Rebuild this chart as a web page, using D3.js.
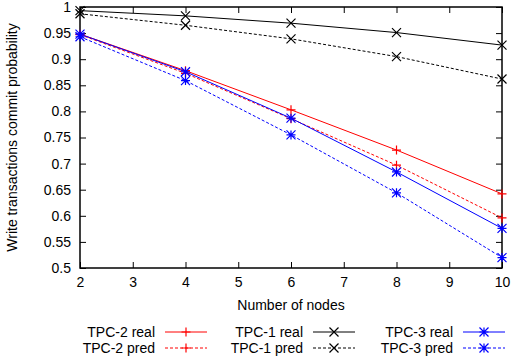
<!DOCTYPE html>
<html>
<head>
<meta charset="utf-8">
<script src="https://cdn.jsdelivr.net/npm/d3@7"></script>
<style>
  body { margin: 0; background: #fff; }
  svg { display: block; font-family: "Liberation Sans", Arial, sans-serif; }
</style>
</head>
<body>
<div id="chart"></div>
<script>
// data
const nodes = [2, 4, 6, 8, 10];
const tpc2Real = [0.948, 0.878, 0.803, 0.726, 0.642];
const tpc2Pred = [0.947, 0.873, 0.786, 0.697, 0.596];
const tpc1Real = [0.993, 0.983, 0.969, 0.951, 0.927];
const tpc1Pred = [0.987, 0.965, 0.939, 0.905, 0.862];
const tpc3Real = [0.948, 0.876, 0.787, 0.684, 0.576];
const tpc3Pred = [0.943, 0.859, 0.755, 0.644, 0.520];
const xTicks = [2, 3, 4, 5, 6, 7, 8, 9, 10];
const yTicks = [0.5, 0.55, 0.6, 0.65, 0.7, 0.75, 0.8, 0.85, 0.9, 0.95, 1];

const series = [
    {name: "TPC-2 real", values: tpc2Real, color: "#ff0000", dash: null, marker: "plus"},
    {name: "TPC-2 pred", values: tpc2Pred, color: "#ff0000", dash: "3,2", marker: "plus"},
    {name: "TPC-1 real", values: tpc1Real, color: "#000000", dash: null, marker: "cross"},
    {name: "TPC-1 pred", values: tpc1Pred, color: "#000000", dash: "3,2", marker: "cross"},
    {name: "TPC-3 real", values: tpc3Real, color: "#0000ff", dash: null, marker: "star"},
    {name: "TPC-3 pred", values: tpc3Pred, color: "#0000ff", dash: "3,2", marker: "star"}
];

const width = 514, height = 360;
const margin = {top: 7, right: 12, bottom: 92, left: 80};
const innerW = width - margin.left - margin.right;
const innerH = height - margin.top - margin.bottom;
const fontSize = 14;

const svg = d3.select("#chart").append("svg")
    .attr("width", width)
    .attr("height", height);

const x = d3.scaleLinear().domain([2, 10]).range([margin.left, margin.left + innerW]);
const y = d3.scaleLinear().domain([0.5, 1]).range([margin.top + innerH, margin.top]);

// inward ticks on all four sides, gnuplot style
const tickLen = 6;
svg.append("g")
    .attr("transform", `translate(0,${margin.top + innerH})`)
    .call(d3.axisBottom(x).tickValues(xTicks).tickSizeInner(-tickLen).tickSizeOuter(0).tickPadding(9).tickFormat(d3.format("d")))
    .call(g => g.select(".domain").remove());
svg.append("g")
    .attr("transform", `translate(0,${margin.top})`)
    .call(d3.axisTop(x).tickValues(xTicks).tickSizeInner(-tickLen).tickSizeOuter(0).tickFormat(""))
    .call(g => g.select(".domain").remove());
svg.append("g")
    .attr("transform", `translate(${margin.left},0)`)
    .call(d3.axisLeft(y).tickValues(yTicks).tickSizeInner(-tickLen).tickSizeOuter(0).tickPadding(9).tickFormat(d3.format("")))
    .call(g => g.select(".domain").remove());
svg.append("g")
    .attr("transform", `translate(${margin.left + innerW},0)`)
    .call(d3.axisRight(y).tickValues(yTicks).tickSizeInner(-tickLen).tickSizeOuter(0).tickFormat(""))
    .call(g => g.select(".domain").remove());

svg.selectAll(".tick text").attr("font-size", fontSize).attr("fill", "#000")
    .attr("font-family", "Liberation Sans, Arial, sans-serif");
svg.selectAll(".tick line").attr("stroke", "#000");

// frame
svg.append("rect")
    .attr("x", margin.left).attr("y", margin.top)
    .attr("width", innerW).attr("height", innerH)
    .attr("fill", "none").attr("stroke", "#000").attr("stroke-width", 1.5);

// axis titles
svg.append("text")
    .attr("x", margin.left + innerW / 2).attr("y", 310)
    .attr("text-anchor", "middle").attr("font-size", fontSize)
    .text("Number of nodes");
svg.append("text")
    .attr("transform", `translate(17,${margin.top + innerH / 2}) rotate(-90)`)
    .attr("text-anchor", "middle").attr("font-size", fontSize)
    .text("Write transactions commit probability");

function drawMarker(g, type, cx, cy, color) {
    const s = 4.5;
    let d;
    if (type === "plus") d = `M${cx - s},${cy}H${cx + s}M${cx},${cy - s}V${cy + s}`;
    else if (type === "cross") d = `M${cx - s},${cy - s}L${cx + s},${cy + s}M${cx - s},${cy + s}L${cx + s},${cy - s}`;
    else d = `M${cx - s},${cy}H${cx + s}M${cx},${cy - s}V${cy + s}M${cx - s},${cy - s}L${cx + s},${cy + s}M${cx - s},${cy + s}L${cx + s},${cy - s}`;
    g.append("path").attr("d", d).attr("stroke", color).attr("stroke-width", 1.2).attr("fill", "none");
}

const line = d3.line().x((d, i) => x(nodes[i])).y(d => y(d));

series.forEach(s => {
    const g = svg.append("g");
    g.append("path")
        .datum(s.values)
        .attr("d", line)
        .attr("fill", "none")
        .attr("stroke", s.color)
        .attr("stroke-width", 1)
        .attr("stroke-dasharray", s.dash);
    s.values.forEach((v, i) => drawMarker(g, s.marker, x(nodes[i]), y(v), s.color));
});

// legend: 3 columns x 2 rows
const legendCols = [155, 303, 453];
const legendRows = [332, 348];
series.forEach((s, i) => {
    const col = Math.floor(i / 2), row = i % 2;
    const tx = legendCols[col], ty = legendRows[row];
    const g = svg.append("g");
    g.append("text")
        .attr("x", tx).attr("y", ty + 5)
        .attr("text-anchor", "end").attr("font-size", fontSize)
        .text(s.name);
    g.append("line")
        .attr("x1", tx + 10).attr("x2", tx + 52)
        .attr("y1", ty).attr("y2", ty)
        .attr("stroke", s.color).attr("stroke-width", 1)
        .attr("stroke-dasharray", s.dash);
    drawMarker(g, s.marker, tx + 31, ty, s.color);
});
</script>
</body>
</html>
